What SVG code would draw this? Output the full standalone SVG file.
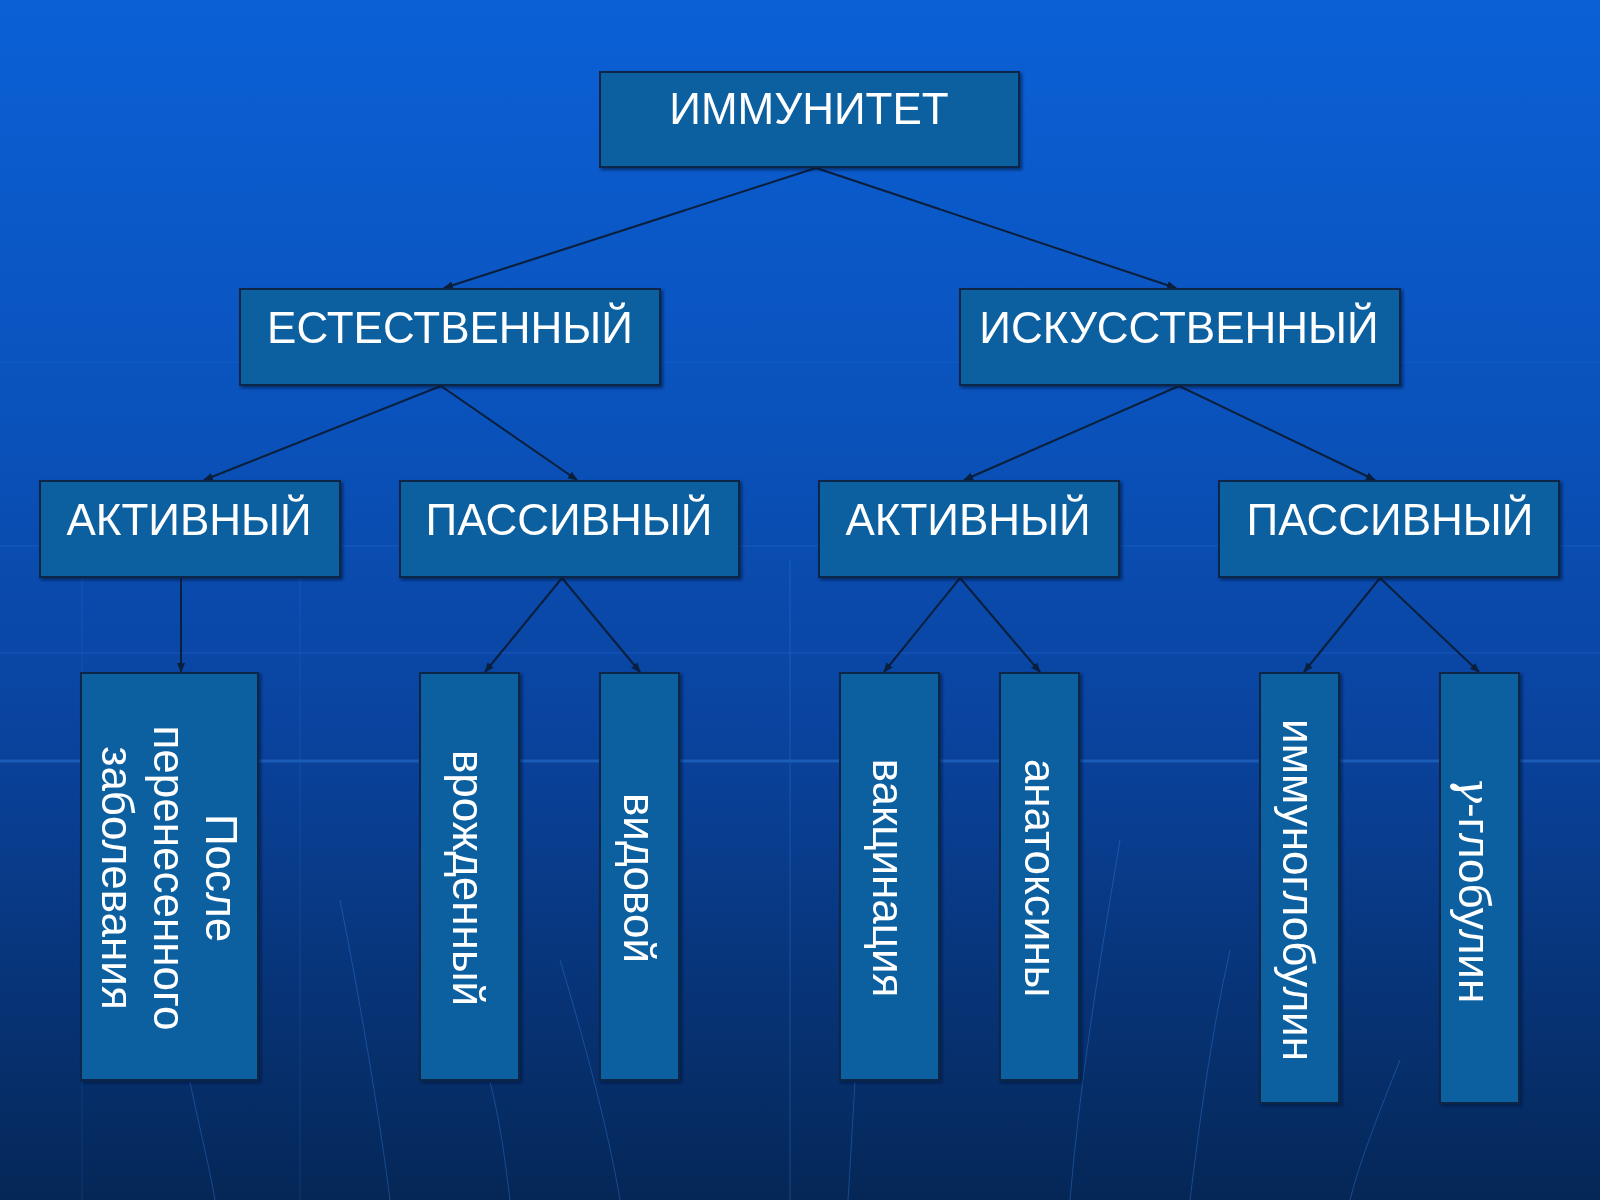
<svg xmlns="http://www.w3.org/2000/svg" width="1600" height="1200" viewBox="0 0 1600 1200">
<style>
.box{fill:#0a60a0;stroke:#0b2746;stroke-width:2}
.t{font-family:"Liberation Sans",Arial,sans-serif;font-size:44px;fill:#ffffff;text-anchor:middle}
.c{stroke:#0a1f3c;stroke-width:2;fill:none;marker-end:url(#ah)}
.g{stroke:#3d8cf0;fill:none}
</style>
<defs>
<linearGradient id="bg" x1="0" y1="0" x2="0" y2="1">
<stop offset="0" stop-color="#0b60d6"/>
<stop offset="0.35" stop-color="#0a52bb"/>
<stop offset="0.6" stop-color="#0a44a0"/>
<stop offset="1" stop-color="#052757"/>
</linearGradient>
<marker id="ah" viewBox="0 0 10 10" refX="9" refY="5" markerWidth="10" markerHeight="10" orient="auto" markerUnits="userSpaceOnUse">
<path d="M0,1 L10,5 L0,9 Z" fill="#0a1f3c"/>
</marker>
<filter id="sh" x="-5%" y="-5%" width="115%" height="115%">
<feDropShadow dx="2" dy="2" stdDeviation="1.5" flood-color="#021530" flood-opacity="0.6"/>
</filter>
</defs>
<rect width="1600" height="1200" fill="url(#bg)"/>
<g id="background-lines" opacity="0.35">
<line class="g" x1="0" y1="362" x2="1600" y2="362" stroke-width="1" opacity="0.4"/>
<line class="g" x1="0" y1="546" x2="1600" y2="546" stroke-width="1.5" opacity="0.5"/>
<line class="g" x1="0" y1="653" x2="1600" y2="653" stroke-width="1.5" opacity="0.5"/>
<line class="g" x1="0" y1="761" x2="1600" y2="761" stroke-width="3" opacity="1"/>
<line class="g" x1="82" y1="560" x2="82" y2="1200" stroke-width="1" opacity="0.5"/>
<line class="g" x1="300" y1="560" x2="300" y2="1200" stroke-width="1" opacity="0.5"/>
<line class="g" x1="790" y1="560" x2="790" y2="1200" stroke-width="1.5" opacity="0.6"/>
<path class="g" d="M190,1082 C200,1130 210,1170 215,1200" stroke-width="1"/>
<path class="g" d="M340,900 C360,1000 380,1120 390,1200" stroke-width="1"/>
<path class="g" d="M490,1082 C500,1120 505,1160 510,1200" stroke-width="1"/>
<path class="g" d="M560,960 C590,1060 610,1140 620,1200" stroke-width="1"/>
<path class="g" d="M855,1082 C852,1130 850,1170 848,1200" stroke-width="1"/>
<path class="g" d="M1120,840 C1100,960 1080,1080 1070,1200" stroke-width="1"/>
<path class="g" d="M1230,950 C1210,1040 1200,1120 1190,1200" stroke-width="1"/>
<path class="g" d="M1400,1060 C1380,1110 1360,1160 1350,1200" stroke-width="1"/>
</g>
<g id="connectors">
<line class="c" x1="816" y1="168" x2="444" y2="288"/>
<line class="c" x1="816" y1="168" x2="1176" y2="288"/>
<line class="c" x1="441" y1="386" x2="204" y2="480"/>
<line class="c" x1="441" y1="386" x2="577" y2="480"/>
<line class="c" x1="1179" y1="386" x2="964" y2="480"/>
<line class="c" x1="1179" y1="386" x2="1375" y2="480"/>
<line class="c" x1="181" y1="578" x2="181" y2="672"/>
<line class="c" x1="562" y1="578" x2="485" y2="672"/>
<line class="c" x1="562" y1="578" x2="640" y2="672"/>
<line class="c" x1="960" y1="578" x2="884" y2="672"/>
<line class="c" x1="960" y1="578" x2="1040" y2="672"/>
<line class="c" x1="1380" y1="578" x2="1304" y2="672"/>
<line class="c" x1="1380" y1="578" x2="1479" y2="672"/>
</g>
<g id="immunitet">
<rect class="box" x="600" y="72" width="419" height="95" filter="url(#sh)"/>
<text class="t" x="809" y="124">ИММУНИТЕТ</text>
</g>
<g id="estestvenny">
<rect class="box" x="240" y="289" width="420" height="96" filter="url(#sh)"/>
<text class="t" x="450" y="343">ЕСТЕСТВЕННЫЙ</text>
</g>
<g id="iskusstvenny">
<rect class="box" x="960" y="289" width="440" height="96" filter="url(#sh)"/>
<text class="t" x="1179" y="343">ИСКУССТВЕННЫЙ</text>
</g>
<g id="aktivny-1">
<rect class="box" x="40" y="481" width="300" height="96" filter="url(#sh)"/>
<text class="t" x="189" y="535">АКТИВНЫЙ</text>
</g>
<g id="passivny-1">
<rect class="box" x="400" y="481" width="339" height="96" filter="url(#sh)"/>
<text class="t" x="569" y="535">ПАССИВНЫЙ</text>
</g>
<g id="aktivny-2">
<rect class="box" x="819" y="481" width="300" height="96" filter="url(#sh)"/>
<text class="t" x="968" y="535">АКТИВНЫЙ</text>
</g>
<g id="passivny-2">
<rect class="box" x="1219" y="481" width="340" height="96" filter="url(#sh)"/>
<text class="t" x="1390" y="535">ПАССИВНЫЙ</text>
</g>
<g id="posle">
<rect class="box" x="81" y="673" width="177" height="407" filter="url(#sh)"/>
<text class="t" transform="translate(169.5,878) rotate(90)"><tspan x="0" y="-36">После</tspan><tspan x="0" y="16">перенесенного</tspan><tspan x="0" y="68">заболевания</tspan></text>
</g>
<g id="vrozhdenny">
<rect class="box" x="420" y="673" width="99" height="407" filter="url(#sh)"/>
<text class="t" transform="translate(469.5,878) rotate(90)" x="0" y="17">врожденный</text>
</g>
<g id="vidovoy">
<rect class="box" x="600" y="673" width="79" height="407" filter="url(#sh)"/>
<text class="t" transform="translate(639.5,878) rotate(90)" x="0" y="16">видовой</text>
</g>
<g id="vakcinaciya">
<rect class="box" x="840" y="673" width="99" height="407" filter="url(#sh)"/>
<text class="t" transform="translate(889.5,878) rotate(90)" x="0" y="17">вакцинация</text>
</g>
<g id="anatoksiny">
<rect class="box" x="1000" y="673" width="79" height="407" filter="url(#sh)"/>
<text class="t" transform="translate(1039.5,878) rotate(90)" x="0" y="15">анатоксины</text>
</g>
<g id="immunoglobulin">
<rect class="box" x="1260" y="673" width="79" height="430" filter="url(#sh)"/>
<text class="t" transform="translate(1299.5,890) rotate(90)" x="0" y="17">иммуноглобулин</text>
</g>
<g id="gamma-globulin">
<rect class="box" x="1440" y="673" width="79" height="430" filter="url(#sh)"/>
<text class="t" transform="translate(1479,890) rotate(90)" x="0" y="20"><tspan font-family="'DejaVu Serif',serif" font-style="italic">γ</tspan>-глобулин</text>
</g>
</svg>
